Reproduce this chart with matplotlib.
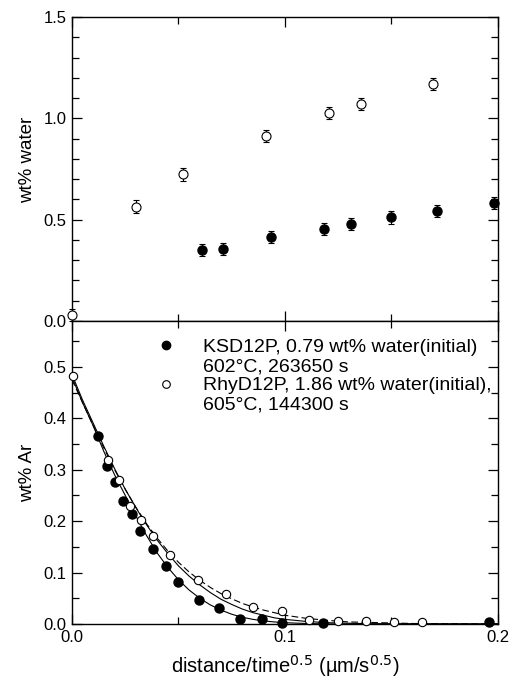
import numpy as np
import matplotlib
matplotlib.use("Agg")
import matplotlib.pyplot as plt
from matplotlib.lines import Line2D
from matplotlib.ticker import MultipleLocator

plt.rcParams['font.family'] = ['Liberation Sans', 'DejaVu Sans']

# top panel: water profiles
water_open_x = [0.0, 0.030, 0.0523, 0.091, 0.1208, 0.1355, 0.1697]
water_open_y = [0.03, 0.565, 0.723, 0.913, 1.025, 1.072, 1.169]
water_fill_x = [0.0609, 0.0709, 0.0936, 0.1185, 0.1312, 0.1498, 0.1714, 0.1983]
water_fill_y = [0.349, 0.356, 0.415, 0.454, 0.479, 0.511, 0.541, 0.582]
water_err = 0.03

# bottom panel: Ar profiles
ar_fill_x = [0.0122, 0.0163, 0.0202, 0.0241, 0.0282, 0.0321, 0.0382, 0.0440,
             0.0498, 0.0596, 0.0692, 0.0789, 0.0891, 0.0984, 0.1177, 0.1958]
ar_fill_y = [0.366, 0.307, 0.277, 0.240, 0.214, 0.181, 0.146, 0.113,
             0.0815, 0.0466, 0.0315, 0.0097, 0.0103, 0.0025, 0.002, 0.003]
ar_open_x = [0.0006, 0.0168, 0.0219, 0.0271, 0.0322, 0.0379, 0.0459, 0.0592,
             0.0721, 0.0851, 0.0984, 0.1114, 0.1247, 0.1379, 0.151, 0.1642]
ar_open_y = [0.483, 0.319, 0.280, 0.230, 0.202, 0.171, 0.135, 0.0854,
             0.0578, 0.0325, 0.0248, 0.0083, 0.005, 0.005, 0.004, 0.003]

# fit curves
fit_fill_x = [0, 0.005, 0.01, 0.015, 0.02, 0.025, 0.03, 0.035, 0.04, 0.045, 0.05,
              0.055, 0.06, 0.065, 0.07, 0.075, 0.08, 0.085, 0.09, 0.095, 0.1,
              0.11, 0.12, 0.2]
fit_fill_y = [0.48, 0.43, 0.385, 0.335, 0.29, 0.25, 0.21, 0.172, 0.138, 0.11, 0.086,
              0.066, 0.05, 0.037, 0.027, 0.019, 0.013, 0.009, 0.006, 0.004, 0.0025,
              0.001, 0.0, 0.0]
fit_open_x = [0, 0.005, 0.01, 0.015, 0.02, 0.025, 0.03, 0.035, 0.04, 0.045, 0.05,
              0.055, 0.06, 0.065, 0.07, 0.075, 0.08, 0.085, 0.09, 0.095, 0.1,
              0.11, 0.12, 0.14, 0.2]
fit_open_y = [0.485, 0.435, 0.39, 0.345, 0.302, 0.262, 0.226, 0.193, 0.163, 0.137, 0.113,
              0.093, 0.076, 0.061, 0.048, 0.038, 0.029, 0.022, 0.017, 0.012, 0.009,
              0.005, 0.0025, 0.0005, 0.0]
fit_dash_x = [0, 0.005, 0.01, 0.015, 0.02, 0.025, 0.03, 0.035, 0.04, 0.045, 0.05,
              0.055, 0.06, 0.065, 0.07, 0.075, 0.08, 0.085, 0.09, 0.095, 0.1,
              0.11, 0.12, 0.13, 0.14, 0.16, 0.2]
fit_dash_y = [0.475, 0.43, 0.385, 0.342, 0.30, 0.262, 0.227, 0.195, 0.167, 0.142, 0.12,
              0.101, 0.085, 0.071, 0.059, 0.049, 0.040, 0.033, 0.027, 0.022, 0.017,
              0.011, 0.007, 0.004, 0.003, 0.001, 0.0]

labels = ["KSD12P, 0.79 wt% water(initial)", "602°C, 263650 s",
          "RhyD12P, 1.86 wt% water(initial),", "605°C, 144300 s"]

fig = plt.figure(figsize=(5.19, 6.81), dpi=100)
ax1 = fig.add_axes([0.1387, 0.5286, 0.8208, 0.4464])
ax2 = fig.add_axes([0.1387, 0.0837, 0.8208, 0.4449])

fs = 12

def style(ax):
    ax.set_xlim(0, 0.2)
    ax.xaxis.set_major_locator(MultipleLocator(0.1))
    ax.xaxis.set_minor_locator(MultipleLocator(0.05))
    ax.tick_params(which='both', direction='in', top=True, right=True,
                   labelsize=fs, width=0.9)
    ax.tick_params(which='major', length=7, pad=4)
    ax.tick_params(which='minor', length=5)
    for s in ax.spines.values():
        s.set_linewidth(1.0)

# top
ax1.errorbar(water_open_x, water_open_y, yerr=water_err, fmt='o', ms=6.5,
             mfc='white', mec='black', mew=0.8, ecolor='black', elinewidth=0.8,
             capsize=2.5, capthick=0.8, clip_on=False, zorder=3)
ax1.errorbar(water_fill_x, water_fill_y, yerr=water_err, fmt='o', ms=6.5,
             mfc='black', mec='black', ecolor='black', elinewidth=0.8,
             capsize=2.5, capthick=0.8, clip_on=False, zorder=3)
style(ax1)
ax1.set_ylim(0, 1.5)
ax1.yaxis.set_major_locator(MultipleLocator(0.5))
ax1.yaxis.set_minor_locator(MultipleLocator(0.1))
ax1.tick_params(labelbottom=False)
ax1.set_ylabel("wt% water", fontsize=13.5)
ax1.yaxis.set_label_coords(-0.085, 0.53)

# bottom
ax2.plot(fit_fill_x, fit_fill_y, color='black', lw=0.8)
ax2.plot(fit_open_x, fit_open_y, color='black', lw=0.8)
ax2.plot(fit_dash_x, fit_dash_y, color='black', lw=0.8, ls=(0, (6, 3)))
ax2.plot(ar_fill_x, ar_fill_y, 'o', ms=6.5, mfc='black', mec='black',
         clip_on=False, zorder=3)
ax2.plot(ar_open_x, ar_open_y, 'o', ms=6, mfc='white', mec='black', mew=0.8,
         clip_on=False, zorder=3)
style(ax2)
ax2.set_ylim(0, 0.589)
ax2.yaxis.set_major_locator(MultipleLocator(0.1))
ax2.yaxis.set_minor_locator(MultipleLocator(0.05))
ax2.set_ylabel("wt% Ar", fontsize=13.5)
ax2.yaxis.set_label_coords(-0.085, 0.5)
ax2.set_xlabel("distance/time$^{0.5}$ (µm/s$^{0.5}$)", fontsize=14.5, labelpad=6)

handles = [Line2D([], [], ls='none', marker='o', ms=6, mfc='black', mec='black'),
           Line2D([], [], ls='none'),
           Line2D([], [], ls='none', marker='o', ms=5.5, mfc='white', mec='black', mew=0.8),
           Line2D([], [], ls='none')]
ax2.legend(handles, labels, loc='upper left', bbox_to_anchor=(0.18, 0.968),
           frameon=False, fontsize=14, handlelength=1.0, handletextpad=1.4,
           labelspacing=0.08, borderaxespad=0.0)

fig.savefig("out.png", dpi=100)
